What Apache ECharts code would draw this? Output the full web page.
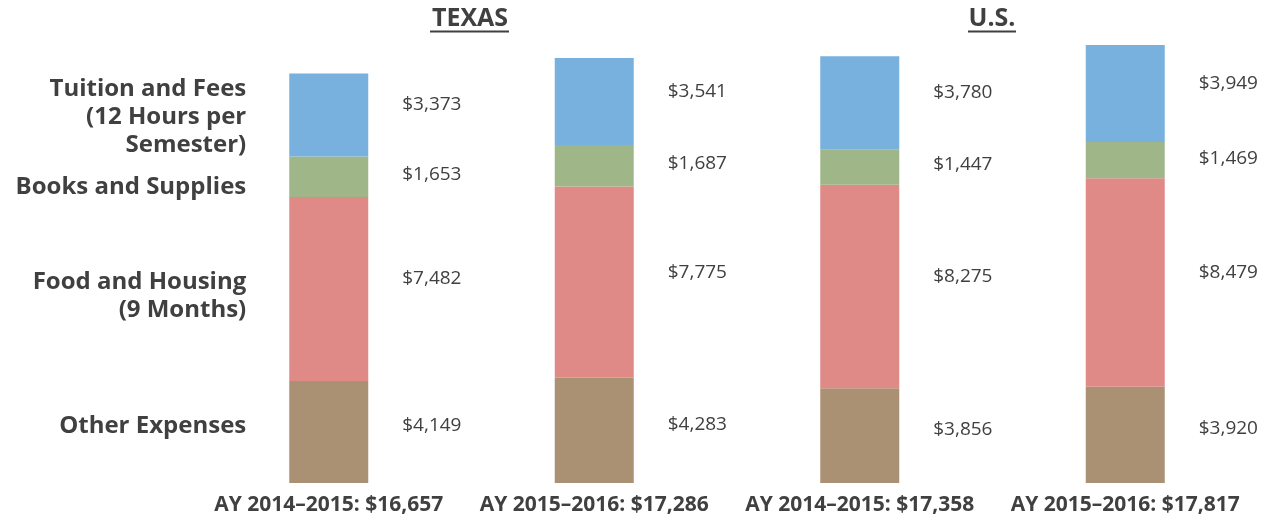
<!DOCTYPE html>
<html>
<head>
<meta charset="utf-8">
<script src="https://cdn.jsdelivr.net/npm/echarts@6/dist/echarts.min.js"></script>
<style>
  html, body { margin: 0; padding: 0; background: #fff; }
  #chart { width: 1272px; height: 516px; }
</style>
</head>
<body>
<div id="chart"></div>
<script>
// data
const categories = ['AY 2014\u20132015: $16,657', 'AY 2015\u20132016: $17,286', 'AY 2014\u20132015: $17,358', 'AY 2015\u20132016: $17,817']
const segmentNames = ['Other Expenses', 'Food and Housing\n(9 Months)', 'Books and Supplies', 'Tuition and Fees\n(12 Hours per\nSemester)']
const otherExpenses = [4149, 4283, 3856, 3920]
const foodHousing = [7482, 7775, 8275, 8479]
const booksSupplies = [1653, 1687, 1447, 1469]
const tuitionFees = [3373, 3541, 3780, 3949]
const groupTitles = ['TEXAS', 'U.S.']

const textColor = '#404040'
const font = "'Open Sans', sans-serif"
const colors = ['#AB9174', '#E08A88', '#9FB788', '#78B0DE']
const valueOffsets = [-6, -10, -2, -10]
const nameOffsets = [-6, 7, 10, 2]
const segments = [otherExpenses, foodHousing, booksSupplies, tuitionFees]

const chart = echarts.init(document.getElementById('chart'))

const series = []
segments.forEach((vals, i) => {
  series.push({
    name: segmentNames[i],
    type: 'bar',
    stack: 'cost',
    barWidth: 79,
    barGap: '-100%',
    data: vals,
    itemStyle: { color: colors[i] },
    label: {
      show: true,
      position: 'right',
      distance: 34,
      offset: [0, valueOffsets[i]],
      color: textColor,
      fontFamily: font,
      fontSize: 19,
      formatter: (p) => '$' + p.value.toLocaleString('en-US'),
    },
  })
})
// invisible copy of the first bar, used only to place the row names on the left
segments.forEach((vals, i) => {
  series.push({
    type: 'bar',
    stack: 'names',
    barWidth: 79,
    barGap: '-100%',
    silent: true,
    data: vals.map((v, j) => (j === 0 ? v : '-')),
    itemStyle: { color: 'rgba(0,0,0,0)' },
    label: {
      show: true,
      position: 'left',
      distance: 43,
      offset: [0, nameOffsets[i]],
      color: textColor,
      fontFamily: font,
      fontWeight: 'bold',
      fontSize: 24,
      lineHeight: 28,
      align: 'right',
      formatter: () => segmentNames[i],
    },
  })
})

const titleStyle = { fill: textColor, font: "bold 25px 'Open Sans', sans-serif", align: 'center', verticalAlign: 'middle' }

const option = {
  animation: false,
  graphic: [
    { type: 'text', style: Object.assign({ text: groupTitles[0], x: 470, y: 19 }, titleStyle) },
    { type: 'text', style: Object.assign({ text: groupTitles[1], x: 992, y: 19 }, titleStyle) },
    { type: 'line', shape: { x1: 430, y1: 31.5, x2: 509, y2: 31.5 }, style: { stroke: textColor, lineWidth: 2 } },
    { type: 'line', shape: { x1: 968, y1: 31.5, x2: 1016, y2: 31.5 }, style: { stroke: textColor, lineWidth: 2 } },
  ],
  grid: { left: 196, right: 14, top: 45, bottom: 32 },
  xAxis: {
    type: 'category',
    data: categories,
    axisLine: { show: false },
    axisTick: { show: false },
    axisLabel: {
      interval: 0,
      hideOverlap: false,
      margin: 12,
      color: textColor,
      fontFamily: font,
      fontWeight: 'bold',
      fontSize: 21,
      offset: [-5, 0],
    },
  },
  yAxis: {
    type: 'value',
    min: 0,
    max: 17817,
    show: false,
    splitLine: { show: false },
  },
  series: series,
}

chart.setOption(option)
</script>
</body>
</html>
